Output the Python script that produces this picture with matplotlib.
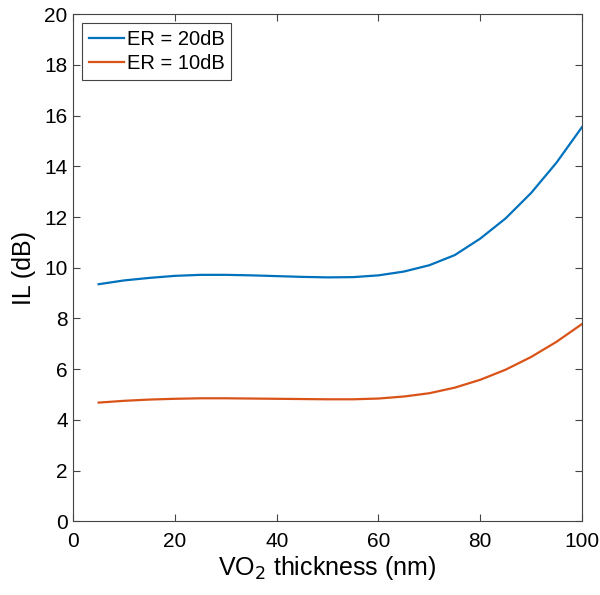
import matplotlib
matplotlib.use("Agg")
import matplotlib.pyplot as plt

thickness = [5, 10, 15, 20, 25, 30, 35, 40, 45, 50, 55, 60, 65, 70, 75, 80, 85, 90, 95, 100]
il_er20 = [9.35, 9.5, 9.6, 9.68, 9.72, 9.72, 9.7, 9.67, 9.64, 9.62, 9.63, 9.7, 9.85, 10.1, 10.5, 11.15, 11.95, 12.95, 14.15, 15.55]
il_er10 = [4.68, 4.75, 4.8, 4.83, 4.85, 4.85, 4.84, 4.83, 4.82, 4.81, 4.81, 4.84, 4.92, 5.05, 5.27, 5.58, 5.98, 6.48, 7.08, 7.78]
labels = ["ER = 20dB", "ER = 10dB"]

plt.rcParams['font.family'] = ['Liberation Sans', 'DejaVu Sans']
fig = plt.figure(figsize=(6, 5.95), dpi=100)
ax = fig.add_axes([0.122, 0.124, 0.848, 0.852])
ax.plot(thickness, il_er20, color='#0072BD', lw=1.6, label=labels[0])
ax.plot(thickness, il_er10, color='#D95319', lw=1.6, label=labels[1])
ax.set_xlim(0, 100)
ax.set_ylim(0, 20)
ax.set_xticks(range(0, 101, 20))
ax.set_yticks(range(0, 21, 2))
ax.tick_params(direction='in', top=True, right=True, labelsize=15, length=5, color='#444444', width=0.8)
ax.tick_params(axis='x', pad=8)
ax.tick_params(axis='y', pad=4)
for s in ax.spines.values():
    s.set_color('#444444')
    s.set_linewidth(0.8)
ax.set_xlabel('VO$_2$ thickness (nm)', fontsize=18, labelpad=2)
ax.set_ylabel('IL (dB)', fontsize=18, labelpad=6)
leg = ax.legend(loc='upper left', fontsize=14.5, fancybox=False, framealpha=1,
                edgecolor='#444444', handlelength=1.7, borderaxespad=0.45,
                handletextpad=0.15, borderpad=0.35, labelspacing=0.25)
leg.get_frame().set_linewidth(0.8)
fig.savefig('out.png', dpi=100)
